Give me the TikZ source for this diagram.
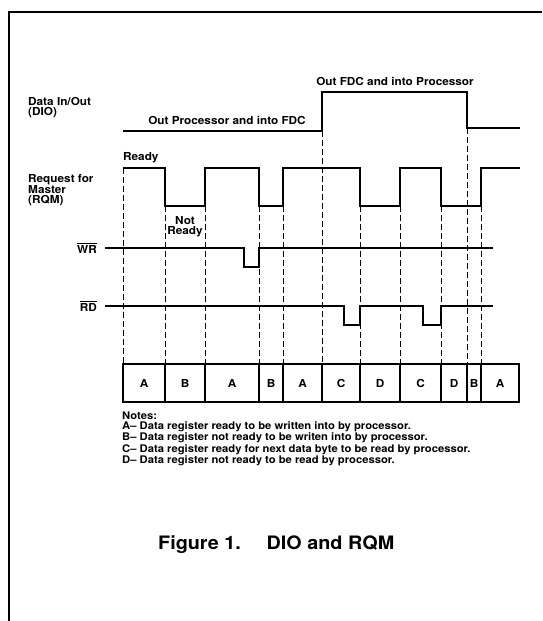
\documentclass[tikz,border=0pt]{standalone}
\usepackage{fontspec}
\setmainfont[FakeStretch=1.07]{TeX Gyre Heros}
\usetikzlibrary{positioning}

\begin{document}
\begin{tikzpicture}[x=1pt,y=-1pt,
  signal/.style={line width=1.8pt},
  guide/.style={line width=0.9pt,dash pattern=on 6pt off 3pt},
  cellbox/.style={line width=1.8pt},
  lbl/.style={font=\bfseries\fontsize{11}{10}\selectfont,inner sep=0pt}]

\useasboundingbox (0,0) rectangle (542,621);

% Frame
\draw[line width=1.5pt] (9,621) -- (9,12) -- (542,12);

% DIO
\draw[signal] (123,131) -- (322,131) -- (322,92) -- (467,92)
  -- (467,128) -- (520,128);

% RQM
\draw[signal] (123,168) -- (165,168) -- (165,206) -- (205,206)
  -- (205,168) -- (259,168) -- (259,206) -- (283,206) -- (283,168)
  -- (360,168) -- (360,206) -- (400,206) -- (400,168) -- (441,168)
  -- (441,206) -- (481,206) -- (481,168) -- (520,168);

% WR and RD
\draw[signal] (105,248) -- (244,248) -- (244,267) -- (259,267)
  -- (259,248) -- (493,248);
\draw[signal] (105,306) -- (344,306) -- (344,325) -- (360,325)
  -- (360,306) -- (423,306) -- (423,325) -- (441,325) -- (441,306)
  -- (493,306);

% Dashed guides
\foreach \x/\y in {123/168,165/206,205/206,259/206,283/206,322/131,
                   360/206,400/206,441/206,467/128,481/206}
  \draw[guide] (\x,\y) -- (\x,364);

% State cells
\foreach \l/\r/\t [count=\i] in {123/165/A,165/205/B,205/259/A,259/283/B,
    283/322/A,322/360/C,360/400/D,400/441/C,441/467/D,467/481/B,481/519/A}
  \draw[cellbox] (\l,364) rectangle (\r,402)
    node[lbl,midway] (cell\i) {\t};

% Signal names
\node[lbl,align=left,anchor=west] (dio) at (28,108) {Data In/Out\\(DIO)};
\node[lbl,align=left,anchor=west] (rqm) at (28,190)
  {Request for\\Master\\(RQM)};
\node[lbl,anchor=east] (wr) at (97,248) {$\overline{\hbox{WR}}$};
\node[lbl,anchor=east] (rd) at (97,306) {$\overline{\hbox{RD}}$};

% Level labels
\node[lbl] (outproc) at (227,120) {Out Processor and into FDC};
\node[lbl] (outfdc) at (395,81) {Out FDC and into Processor};
\node[lbl,anchor=west] (ready) at (123,158) {Ready};
\node[lbl,align=center] (notready) at (185,227) {Not\\Ready};

% Notes
\node[lbl,font=\bfseries\fontsize{10.5}{9.9}\selectfont,align=left,
  anchor=north west] (notes) at (122,412)
  {Notes:\\
   A-- Data register ready to be written into by processor.\\
   B-- Data register not ready to be writen into by processor.\\
   C-- Data register ready for next data byte to be read by processor.\\
   D-- Data register not ready to be read by processor.};

% Title
\node[font=\bfseries\fontsize{18.5}{18.5}\selectfont,inner sep=0pt,anchor=west]
  (title) at (158,545) {Figure 1.\hspace{1.4em}DIO and RQM};

\end{tikzpicture}
\end{document}
